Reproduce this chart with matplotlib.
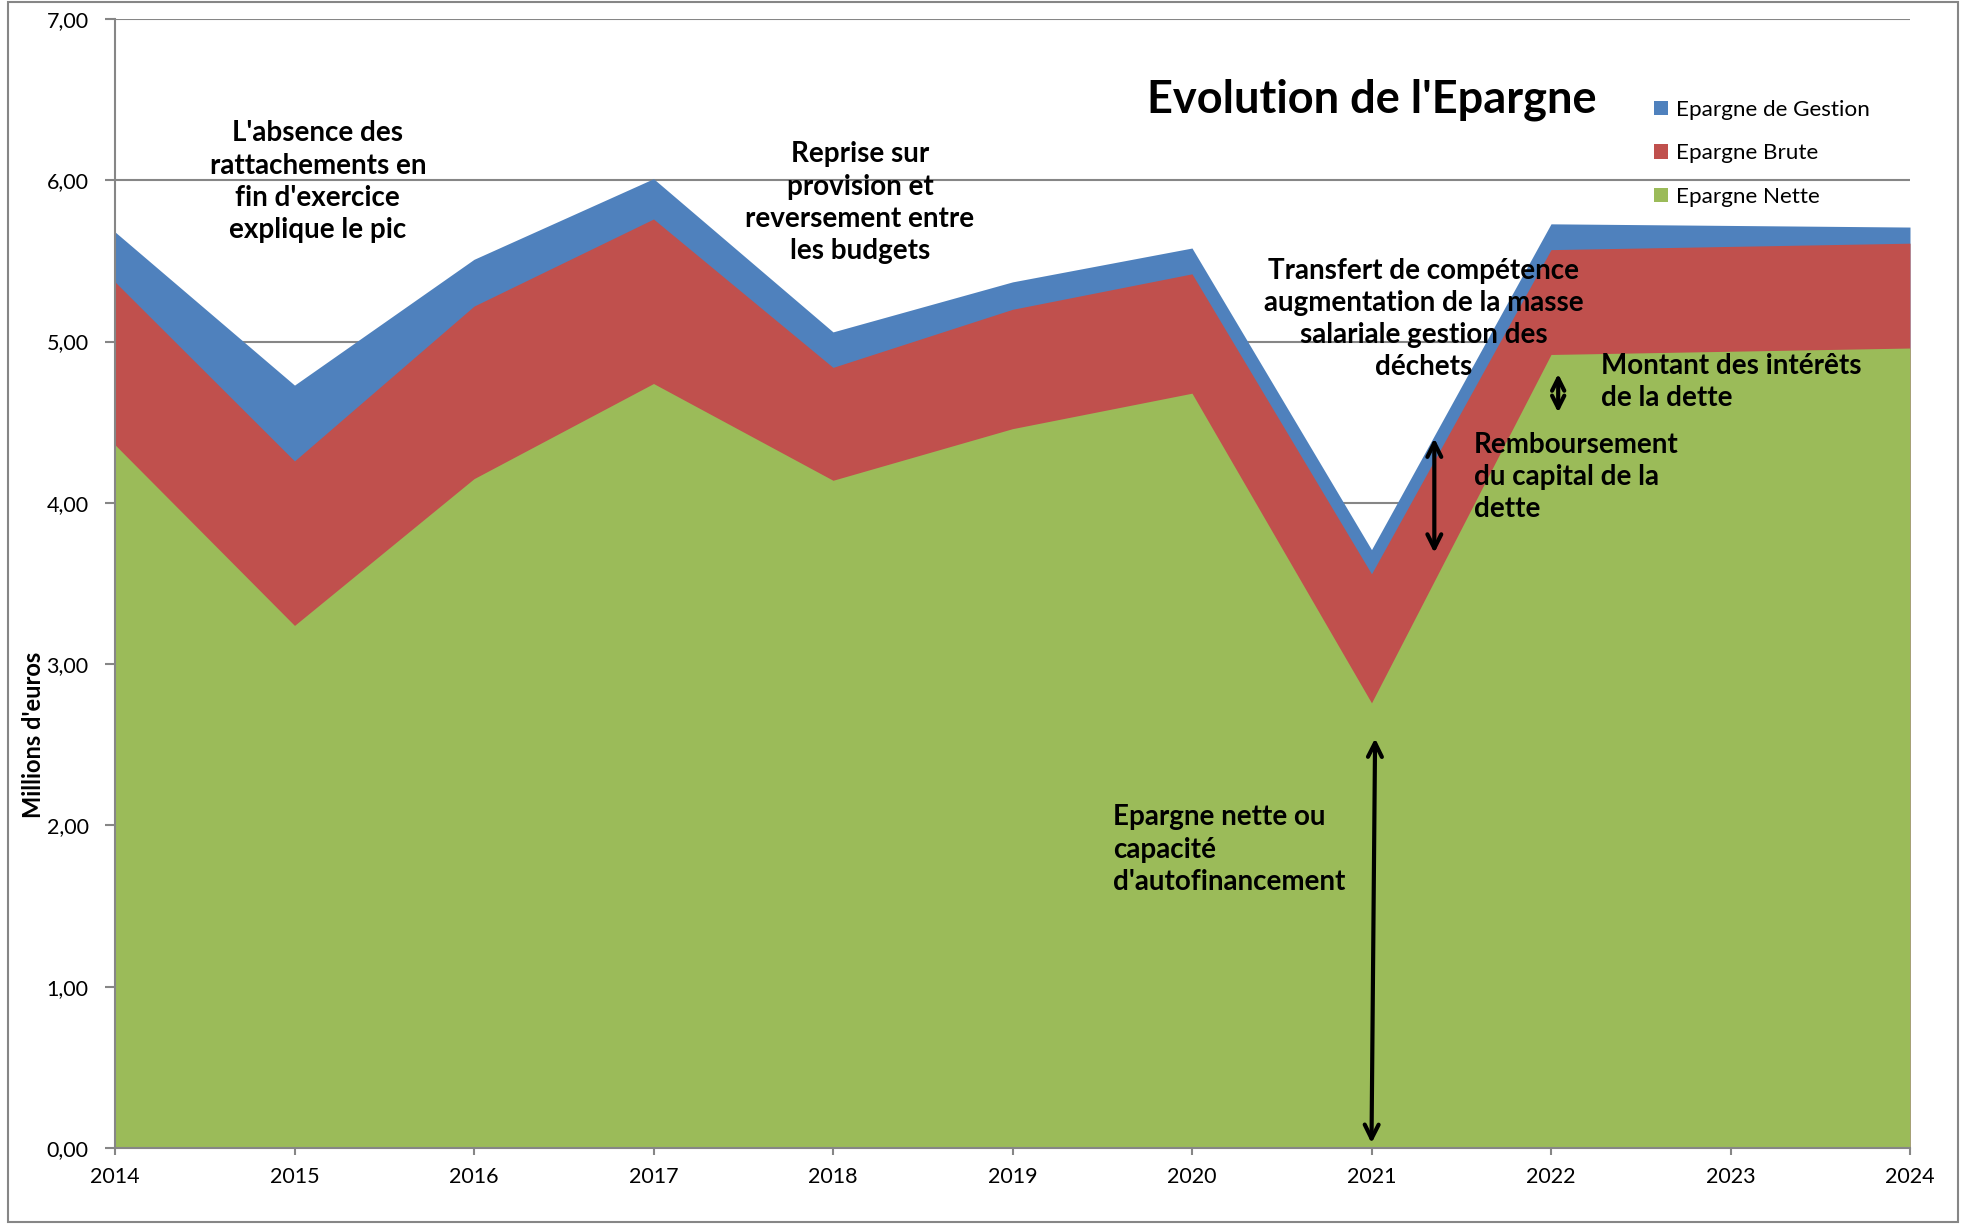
import matplotlib
matplotlib.use("Agg")
import matplotlib.pyplot as plt
from matplotlib.patches import Rectangle, Patch
from matplotlib.ticker import FuncFormatter

years = [2014, 2015, 2016, 2017, 2018, 2019, 2020, 2021, 2022, 2023, 2024]
epargne_gestion = [5.68, 4.73, 5.51, 6.01, 5.06, 5.37, 5.58, 3.71, 5.73, 5.72, 5.71]
epargne_brute = [5.37, 4.26, 5.22, 5.76, 4.84, 5.20, 5.42, 3.56, 5.57, 5.59, 5.61]
epargne_nette = [4.36, 3.24, 4.15, 4.74, 4.14, 4.46, 4.68, 2.76, 4.92, 4.94, 4.96]
series_labels = ["Epargne de Gestion", "Epargne Brute", "Epargne Nette"]
colors = ["#4F81BD", "#C0504D", "#9BBB59"]

plt.rcParams['font.family'] = ['Lato', 'DejaVu Sans']

fig = plt.figure(figsize=(19.64, 12.24), dpi=100)
ax = fig.add_axes([115/1964, 1 - 1148/1224, (1910-115)/1964, (1148-19)/1224])

for vals, c in zip([epargne_gestion, epargne_brute, epargne_nette], colors):
    ax.fill_between(years, 0, vals, color=c, linewidth=0, zorder=2)

ax.set_xlim(2014, 2024)
ax.set_ylim(0, 7)
ax.set_xticks(years)
ax.set_yticks(range(0, 8))
ax.yaxis.set_major_formatter(FuncFormatter(lambda v, p: f"{v:.2f}".replace(".", ",")))
ax.grid(axis='y', color='#868686', linewidth=1.5, zorder=1)
ax.set_axisbelow(True)
for s in ['top', 'right']:
    ax.spines[s].set_visible(False)
for s in ['left', 'bottom']:
    ax.spines[s].set_color('#868686')
    ax.spines[s].set_linewidth(1.5)
    ax.spines[s].set_zorder(3)
ax.tick_params(axis='both', colors='#868686', labelcolor='black', labelsize=15.5,
               width=1.5, direction='out')
ax.tick_params(axis='y', length=7, pad=12)
ax.tick_params(axis='x', length=5, pad=9)

fig.text(34/1964, 1 - 735/1224, "Millions d'euros", rotation=90, ha='center', va='center',
         fontsize=17, fontweight='bold')

ax.text(2021.0, 6.50, "Evolution de l'Epargne", ha='center', va='center',
        fontsize=32.5, fontweight='bold', zorder=5)

handles = [Patch(facecolor=c, edgecolor='none') for c in colors]
fig.legend(handles, series_labels, loc='upper left', bbox_to_anchor=(1645/1964, 1 - 91/1224),
           frameon=False, fontsize=16.2, handlelength=0.6, handleheight=0.6,
           handletextpad=0.4, labelspacing=1.04, borderaxespad=0)

tkw = dict(fontsize=20, fontweight='bold', zorder=5, linespacing=1.3)
ax.text(2015.13, 5.99, "L'absence des\nrattachements en\nfin d'exercice\nexplique le pic",
        ha='center', va='center', multialignment='center', **tkw)
ax.text(2018.15, 5.86, "Reprise sur\nprovision et\nreversement entre\nles budgets",
        ha='center', va='center', multialignment='center', **tkw)
ax.text(2021.29, 5.14, "Transfert de compétence\naugmentation de la masse\nsalariale gestion des\ndéchets",
        ha='center', va='center', multialignment='center', **tkw)
ax.text(2022.28, 4.75, "Montant des intérêts\nde la dette",
        ha='left', va='center', multialignment='left', **tkw)
ax.text(2021.57, 4.16, "Remboursement\ndu capital de la\ndette",
        ha='left', va='center', multialignment='left', **tkw)
ax.text(2019.56, 1.85, "Epargne nette ou\ncapacité\nd'autofinancement",
        ha='left', va='center', multialignment='left', **tkw)

akw = dict(arrowstyle='<->', color='black', lw=3, mutation_scale=25, shrinkA=0, shrinkB=0)
ax.annotate("", xy=(2021.02, 2.54), xytext=(2021.0, 0.03), arrowprops=akw, zorder=6)
ax.annotate("", xy=(2021.35, 4.40), xytext=(2021.35, 3.69), arrowprops=akw, zorder=6)
ax.annotate("", xy=(2022.04, 4.80), xytext=(2022.04, 4.56),
            arrowprops=dict(arrowstyle='<->', color='black', lw=3, mutation_scale=22,
                            shrinkA=0, shrinkB=0), zorder=6)

fig.patches.append(Rectangle((8/1964, 2/1224), (1958-8)/1964, (1222-2)/1224,
                             transform=fig.transFigure, fill=False,
                             edgecolor='#868686', linewidth=1.5))

fig.savefig("out.png", dpi=100)
